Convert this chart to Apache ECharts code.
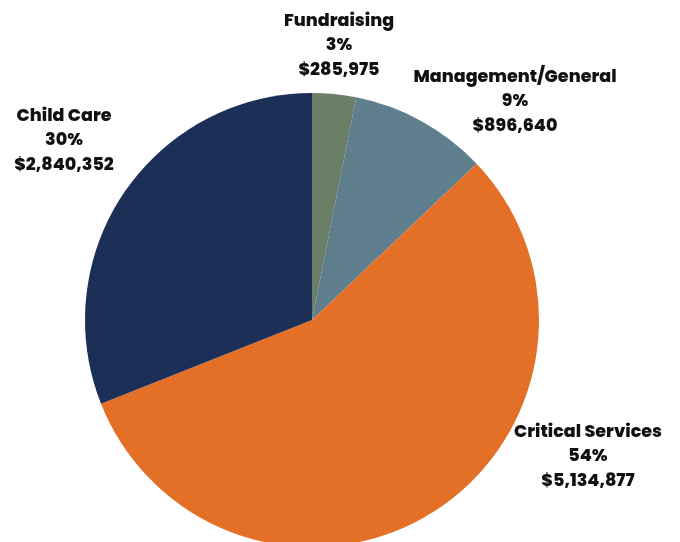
<!DOCTYPE html>
<html>
<head>
<meta charset="utf-8">
<script src="https://cdn.jsdelivr.net/npm/echarts@6/dist/echarts.min.js"></script>
<style>
  html, body { margin: 0; padding: 0; background: #fff; }
  #chart { width: 680px; height: 542px; }
</style>
</head>
<body>
<div id="chart"></div>
<script>
// chart data
var categories = ['Fundraising', 'Management/General', 'Critical Services', 'Child Care']
var amounts = [285975, 896640, 5134877, 2840352]
var percentLabels = ['3%', '9%', '54%', '30%']
var colors = ['#6b7f67', '#5f7f8f', '#e37026', '#1c2f57']

// where each label sits (centre of the middle line)
var labelSpots = [[339, 46], [515, 102], [588, 457], [64, 141]]

function money (v) {
  return '$' + v.toString().replace(/\B(?=(\d{3})+(?!\d))/g, ',')
}

var chart = echarts.init(document.getElementById('chart'))
chart.setOption({
  animation: false,
  series: [{
    type: 'pie',
    center: [312, 320],
    radius: 227,
    startAngle: 90,
    clockwise: true,
    label: {
      show: true,
      position: 'outside',
      fontFamily: 'Poppins, Inter, sans-serif',
      fontWeight: 800,
      fontSize: 17.5,
      lineHeight: 24.5,
      color: '#111',
      align: 'center',
      overflow: 'none',
      width: 300,
      formatter: function (p) {
        return p.name + '\n' + percentLabels[p.dataIndex] + '\n' + money(p.value)
      }
    },
    labelLine: { show: false },
    labelLayout: function (params) {
      var s = labelSpots[params.dataIndex]
      return { x: s[0], y: s[1], align: 'center', verticalAlign: 'middle' }
    },
    itemStyle: { borderWidth: 0 },
    data: categories.map(function (c, i) {
      return { name: c, value: amounts[i], itemStyle: { color: colors[i] } }
    })
  }]
})
</script>
</body>
</html>
